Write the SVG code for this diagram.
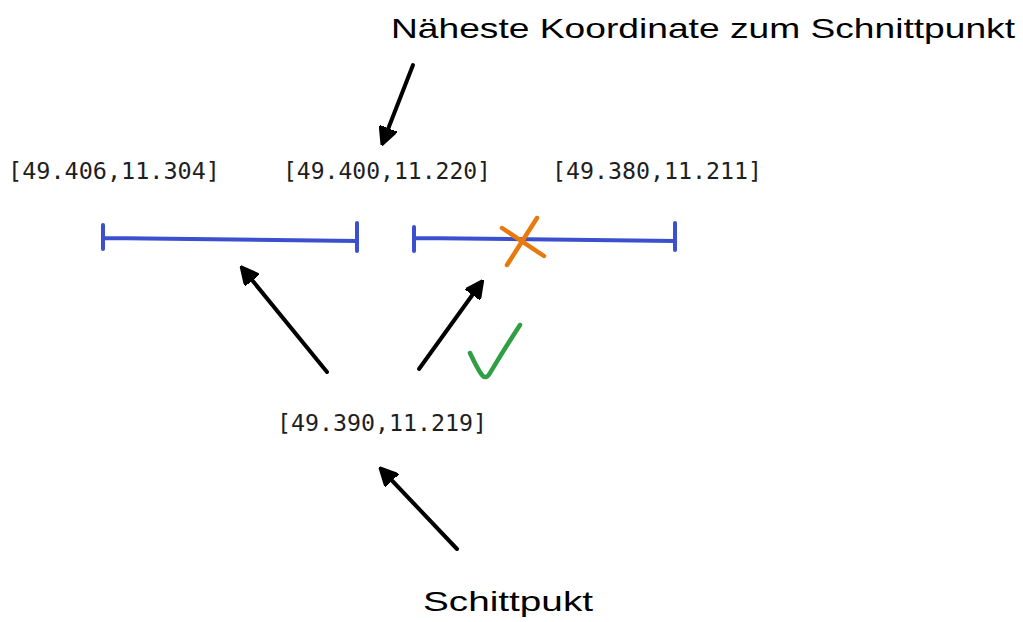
<svg xmlns="http://www.w3.org/2000/svg" width="1023" height="622" viewBox="0 0 1023 622">
  <defs>
    <marker id="head" viewBox="0 0 10 10" refX="8" refY="5" markerWidth="4.6" markerHeight="4.6" markerUnits="strokeWidth" orient="auto">
      <path d="M0,0 L10,5 L0,10 Z" fill="#000" stroke="#000" stroke-width="1.2" stroke-linejoin="round"/>
    </marker>
  </defs>
  <style>
    .hand { font-family: "Liberation Sans", "DejaVu Sans", sans-serif; font-size: 28px; fill: #000; }
    .mono { font-family: "DejaVu Sans Mono", "Liberation Mono", monospace; font-size: 23px; fill: #1e1e1e; }
    .seg { stroke: #3b50ce; stroke-width: 4; stroke-linecap: round; fill: none; }
    .arrow { stroke: #000; stroke-width: 4; stroke-linecap: round; fill: none; marker-end: url(#head); }
  </style>
  <rect width="1023" height="622" fill="#fff"/>

  <g id="title">
    <text class="hand" x="391" y="38" textLength="624" lengthAdjust="spacingAndGlyphs">Näheste Koordinate zum Schnittpunkt</text>
  </g>

  <g id="coord-a">
    <text class="mono" x="8" y="179" textLength="212" lengthAdjust="spacingAndGlyphs">[49.406,11.304]</text>
  </g>
  <g id="coord-b">
    <text class="mono" x="283" y="179" textLength="208" lengthAdjust="spacingAndGlyphs">[49.400,11.220]</text>
  </g>
  <g id="coord-c">
    <text class="mono" x="552" y="179" textLength="210" lengthAdjust="spacingAndGlyphs">[49.380,11.211]</text>
  </g>

  <g id="segment-left">
    <path class="seg" d="M103,225 L103,249 M104,238 L357,241 M357,223 L357,251"/>
  </g>
  <g id="segment-right">
    <path class="seg" d="M414,227 L414,251 M415,238 L675,241 M675,223 L675,250"/>
    <path d="M502,228 L544,256 M537,218 L507,265" stroke="#e8790c" stroke-width="4.5" stroke-linecap="round" fill="none"/>
  </g>

  <g id="check">
    <path d="M470,353 Q478,370 482,375 Q486,380 490,373 Q505,348 520,325" stroke="#2f9e44" stroke-width="4.5" stroke-linecap="round" stroke-linejoin="round" fill="none"/>
  </g>

  <g id="coord-point">
    <text class="mono" x="277" y="431" textLength="210" lengthAdjust="spacingAndGlyphs">[49.390,11.219]</text>
  </g>

  <g id="label-point">
    <text class="hand" x="423" y="611" textLength="170" lengthAdjust="spacingAndGlyphs">Schittpukt</text>
  </g>

  <g id="connectors">
    <line class="arrow" x1="413" y1="65" x2="383" y2="142"/>
    <line class="arrow" x1="327" y1="372" x2="243" y2="269"/>
    <line class="arrow" x1="419" y1="369" x2="481" y2="283"/>
    <line class="arrow" x1="457" y1="549" x2="382" y2="470"/>
  </g>
</svg>
